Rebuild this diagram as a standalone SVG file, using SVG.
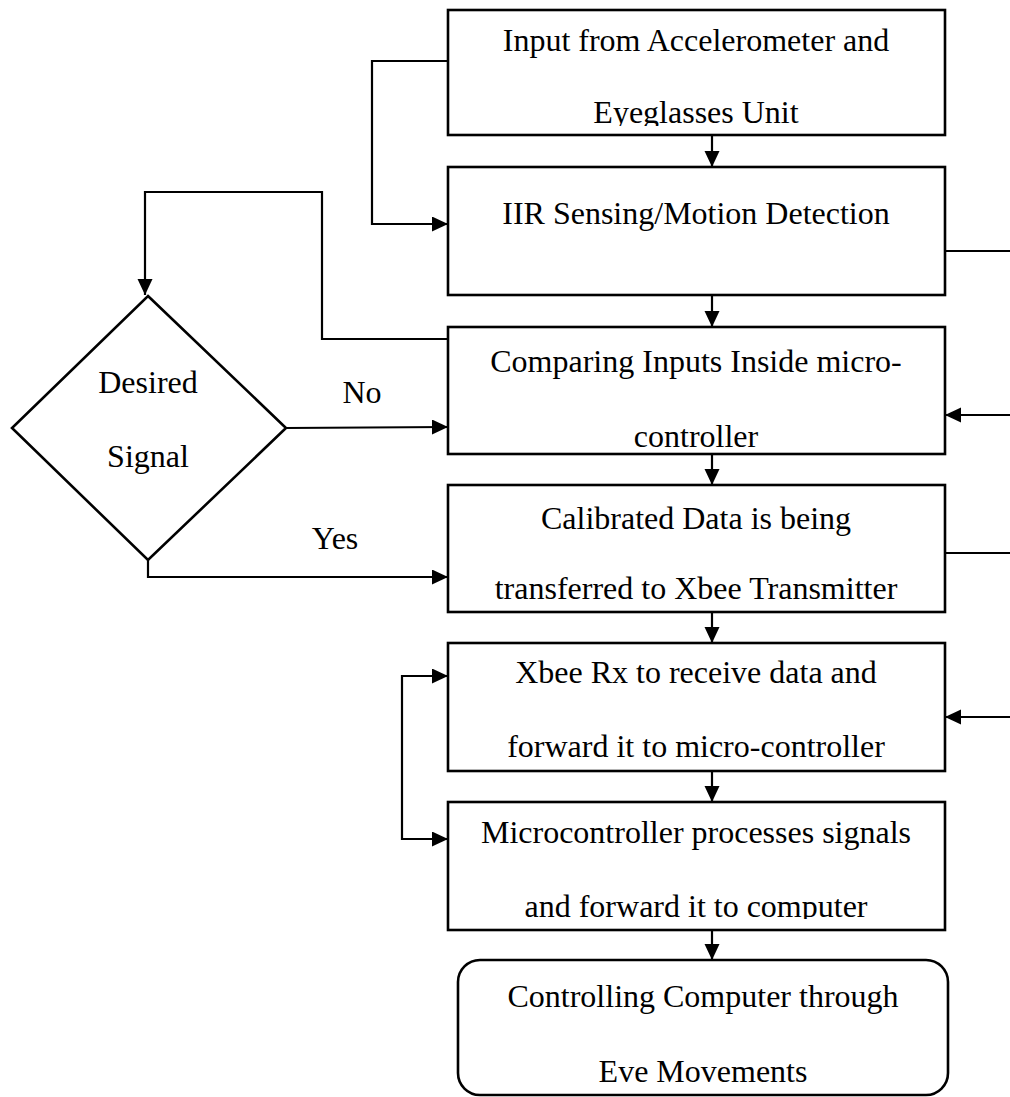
<svg xmlns="http://www.w3.org/2000/svg" width="1010" height="1097" viewBox="0 0 1010 1097">
<style>
.box{fill:#fff;stroke:#000;stroke-width:2.6}
.t{font-family:"Liberation Serif","Times New Roman",serif;font-size:32px;fill:#000;text-anchor:middle}
.c{fill:none;stroke:#000;stroke-width:2.2}
.a{marker-end:url(#ah)}
</style>
<defs>
<marker id="ah" markerUnits="userSpaceOnUse" markerWidth="17" markerHeight="16" refX="16" refY="7.5" orient="auto">
<path d="M0,0 L16,7.5 L0,15 z" fill="#000"/>
</marker>
<clipPath id="clip1"><rect x="448" y="10" width="497" height="116"/></clipPath>
<clipPath id="clip6"><rect x="448" y="802" width="497" height="117"/></clipPath>
</defs>
<rect width="1010" height="1097" fill="#fff"/>
<g id="connectors">
<path class="c a" d="M712,135 L712,167"/>
<path class="c a" d="M712,295 L712,327"/>
<path class="c a" d="M712,454 L712,485"/>
<path class="c a" d="M712,612 L712,643"/>
<path class="c a" d="M712,771 L712,802"/>
<path class="c a" d="M712,930 L712,960"/>
<path class="c a" d="M448,61 L372,61 L372,224 L448,224"/>
<path class="c a" d="M448,339 L322,339 L322,192 L145,192 L145,295"/>
<path class="c a" d="M286,428 L448,427"/>
<path class="c a" d="M148,560 L148,577 L448,577"/>
<path class="c a" d="M402,757 L402,676 L448,676"/>
<path class="c a" d="M402,757 L402,839 L448,839"/>
<path class="c" d="M945,251 L1010,251"/>
<path class="c a" d="M1010,415 L945,415"/>
<path class="c" d="M945,553 L1010,553"/>
<path class="c a" d="M1010,717 L945,717"/>
<text class="t" x="362" y="403">No</text>
<text class="t" x="335" y="549">Yes</text>
</g>
<g id="node-input">
<rect class="box" x="448" y="10" width="497" height="125"/>
<g clip-path="url(#clip1)">
<text class="t" x="696" y="51">Input from Accelerometer and</text>
<text class="t" x="696" y="123">Eyeglasses Unit</text>
</g>
</g>
<g id="node-iir">
<rect class="box" x="448" y="167" width="497" height="128"/>
<text class="t" x="696" y="224">IIR Sensing/Motion Detection</text>
</g>
<g id="node-compare">
<rect class="box" x="448" y="327" width="497" height="127"/>
<text class="t" x="696" y="372">Comparing Inputs Inside micro-</text>
<text class="t" x="696" y="447">controller</text>
</g>
<g id="node-calibrated">
<rect class="box" x="448" y="485" width="497" height="127"/>
<text class="t" x="696" y="529">Calibrated Data is being</text>
<text class="t" x="696" y="599">transferred to Xbee Transmitter</text>
</g>
<g id="node-xbee-rx">
<rect class="box" x="448" y="643" width="497" height="128"/>
<text class="t" x="696" y="683">Xbee Rx to receive data and</text>
<text class="t" x="696" y="757">forward it to micro-controller</text>
</g>
<g id="node-micro">
<rect class="box" x="448" y="802" width="497" height="128"/>
<g clip-path="url(#clip6)">
<text class="t" x="696" y="843">Microcontroller processes signals</text>
<text class="t" x="696" y="917">and forward it to computer</text>
</g>
</g>
<g id="node-control">
<rect class="box" x="458" y="960" width="490" height="135" rx="22" ry="22"/>
<text class="t" x="703" y="1007">Controlling Computer through</text>
<text class="t" x="703" y="1082">Eve Movements</text>
</g>
<g id="node-desired">
<polygon class="box" points="148,296 286,428 148,560 12,428"/>
<text class="t" x="148" y="393">Desired</text>
<text class="t" x="148" y="467">Signal</text>
</g>
</svg>
